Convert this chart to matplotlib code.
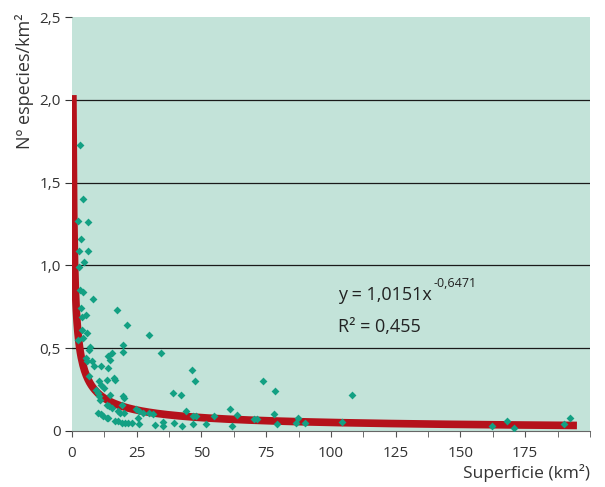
import numpy as np
import matplotlib.pyplot as plt

plt.rcParams['font.family'] = ['Open Sans', 'DejaVu Sans']

# datos: superficie (km2) y especies por km2
superficie = [3.1, 4.4, 2.4, 6.3, 3.3, 2.6, 6.3, 4.6, 2.8, 3.1, 4.4, 8.2, 3.3, 5.3,
              3.7, 17.2, 4.0, 5.9, 2.4, 4.4, 21.1, 29.8, 6.9, 6.7, 19.8, 19.6, 34.4,
              15.3, 13.8, 14.7, 5.4, 5.7, 7.8, 8.5, 11.1, 13.8, 6.7, 13.6, 16.2, 16.6,
              10.5, 11.2, 12.4, 9.3, 9.9, 39.1, 42.0, 14.7, 19.8, 20.2, 10.5, 10.8,
              13.4, 14.4, 15.3, 19.2, 17.9, 18.5, 20.2, 24.7, 25.9, 27.3, 29.8, 31.2,
              10.2, 11.1, 11.9, 13.4, 14.0, 16.6, 17.9, 19.2, 20.5, 21.7, 23.0, 25.4,
              25.9, 32.0, 35.3, 35.3, 39.4, 46.4, 47.4, 43.9, 42.3, 46.6, 46.8, 47.9,
              51.7, 54.8, 61.0, 61.8, 63.6, 70.3, 71.5, 73.9, 78.4, 78.1, 79.0, 86.4,
              87.1, 90.0, 104.1, 108.2, 162.3, 168.1, 170.7, 190.0, 192.4]
especies = [1.73, 1.40, 1.27, 1.26, 1.16, 1.09, 1.09, 1.02, 0.99, 0.85, 0.84, 0.80,
            0.74, 0.70, 0.69, 0.73, 0.61, 0.59, 0.55, 0.56, 0.64, 0.58, 0.505, 0.49,
            0.52, 0.475, 0.47, 0.47, 0.455, 0.43, 0.44, 0.425, 0.425, 0.39, 0.39,
            0.38, 0.33, 0.31, 0.32, 0.31, 0.30, 0.28, 0.26, 0.25, 0.23, 0.23, 0.22,
            0.22, 0.21, 0.20, 0.21, 0.19, 0.16, 0.15, 0.14, 0.16, 0.12, 0.11, 0.11,
            0.13, 0.12, 0.11, 0.11, 0.10, 0.11, 0.10, 0.09, 0.08, 0.08, 0.06, 0.06,
            0.05, 0.05, 0.05, 0.05, 0.08, 0.04, 0.035, 0.055, 0.03, 0.05, 0.37, 0.30,
            0.12, 0.03, 0.04, 0.09, 0.09, 0.04, 0.09, 0.135, 0.03, 0.097, 0.07, 0.07,
            0.30, 0.24, 0.10, 0.04, 0.046, 0.08, 0.046, 0.056, 0.22, 0.03, 0.06,
            0.02, 0.044, 0.08]

# ajuste potencial
coef_a = 1.0151
coef_b = -0.6471
x_fit = np.linspace(0.343, 195, 600)
y_fit = coef_a * x_fit ** coef_b

y_ticks = [0, 0.5, 1.0, 1.5, 2.0, 2.5]
y_labels = ['0', '0,5', '1,0', '1,5', '2,0', '2,5']
x_ticks = [0, 25, 50, 75, 100, 125, 150, 175]

W, H = 605, 487
fig = plt.figure(figsize=(W / 100, H / 100), dpi=100)
ax = fig.add_axes([0.119, 0.115, 0.856, 0.85])
ax.set_facecolor('#c3e3d9')

for g in [0.5, 1.0, 1.5, 2.0]:
    ax.axhline(g, color='#1a1a1a', lw=0.9, zorder=1)

ax.plot(x_fit, y_fit, color='#b5121b', lw=5.5, solid_capstyle='butt', zorder=2)
ax.scatter(superficie, especies, marker='D', s=16, color='#13a083', lw=0, zorder=3)

ax.set_xlim(0, 200)
ax.set_ylim(0, 2.5)
ax.set_xticks(x_ticks)
ax.set_xticks(np.arange(0, 200.1, 12.5), minor=True)
ax.set_yticks(y_ticks)
ax.set_yticklabels(y_labels)
ax.tick_params(axis='both', labelsize=11, colors='#333333', width=0.8)
ax.tick_params(axis='x', which='both', length=4, pad=7, colors='#555555', labelcolor='#333333')
ax.tick_params(axis='y', length=5, pad=3)
for s in ['top', 'right', 'left']:
    ax.spines[s].set_visible(False)
ax.spines['bottom'].set_color('#666666')
ax.spines['bottom'].set_linewidth(0.8)

# ecuacion del ajuste
fig.text(338 / W, 1 - 300 / H, 'y = 1,0151x', va='baseline', fontsize=13, color='#222222')
fig.text(434 / W, 1 - 287 / H, '-0,6471', va='baseline', fontsize=9, color='#222222')
fig.text(338 / W, 1 - 332 / H, 'R² = 0,455', va='baseline', fontsize=13, color='#222222')

fig.text(590 / W, 1 - 478 / H, 'Superficie (km²)', ha='right', va='baseline',
         fontsize=12.5, color='#333333')
fig.text(25 / W, 1 - 13 / H, 'Nº especies/km²', ha='center', va='top', rotation=90,
         fontsize=13, color='#333333')

fig.savefig('out.png', dpi=100)
